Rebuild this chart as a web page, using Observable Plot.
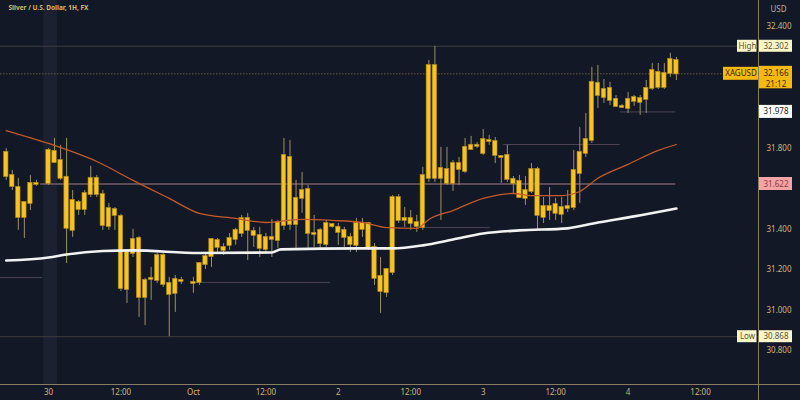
<!DOCTYPE html>
<html><head><meta charset="utf-8">
<script src="https://cdn.jsdelivr.net/npm/d3@7"></script>
<script src="https://cdn.jsdelivr.net/npm/@observablehq/plot@0.6"></script>
<style>
html,body{margin:0;padding:0;background:#131826;}
#chart{width:800px;height:400px;overflow:hidden;}
</style></head><body><div id="chart"></div>
<script>
// hours since 30 Sep 00:00 (hourly candles)
const hours = [-7,-6,-5,-4,-3,-2,
  0,1,2,3,4,5,6,7,8,9,10,11,12,13,14,15,16,17,18,19,20,21,22,
  24,25,26,27,28,29,30,31,32,33,34,35,36,37,38,39,40,41,42,43,44,45,46,47,48,49,50,51,52,53,54,55,56,57,58,59,60,61,62,63,64,65,66,67,68,69,70,71,72,73,74,75,76,77,78,79,80,81,82,83,84,85,86,87,88,89,90,91,92,93,94,95,96,97,98,99,100,101,102,103,104];
const open = [31.778,31.664,31.605,31.457,31.526,31.625,
  31.625,31.783,31.738,31.655,31.393,31.531,31.496,31.570,31.650,31.570,31.412,31.496,31.462,31.101,31.279,31.353,31.062,31.156,31.146,31.269,31.131,31.082,31.146,
  31.136,31.136,31.224,31.264,31.343,31.309,31.319,31.348,31.378,31.452,31.388,31.368,31.299,31.358,31.343,31.417,31.753,31.422,31.551,31.595,31.378,31.393,31.323,31.422,31.408,31.393,31.358,31.319,31.398,31.427,31.309,31.166,31.086,31.185,31.555,31.442,31.452,31.432,31.408,31.650,32.207,31.650,31.694,31.625,31.694,31.684,31.793,31.813,31.773,31.837,31.832,31.758,31.763,31.645,31.635,31.590,31.585,31.694,31.457,31.511,31.477,31.506,31.501,31.506,31.674,31.773,31.837,32.119,32.089,32.094,32.040,32.005,31.995,32.030,32.044,32.040,32.094,32.173,32.099,32.168,32.232];
const high = [31.797,31.689,31.650,31.531,31.664,31.640,
  31.797,31.847,31.813,31.847,31.590,31.541,31.590,31.709,31.664,31.590,31.526,31.506,31.472,31.294,31.398,31.363,31.156,31.210,31.279,31.279,31.161,31.170,31.161,
  31.161,31.234,31.284,31.353,31.353,31.328,31.378,31.403,31.467,31.477,31.408,31.408,31.378,31.447,31.442,31.847,31.837,31.640,31.679,31.615,31.467,31.403,31.442,31.427,31.427,31.408,31.378,31.452,31.452,31.432,31.328,31.259,31.205,31.565,31.570,31.506,31.491,31.467,31.704,32.232,32.302,31.803,31.803,31.738,31.753,31.847,31.857,31.827,31.891,31.862,31.852,31.763,31.813,31.659,31.664,31.659,31.723,31.704,31.555,31.605,31.551,31.555,31.590,31.788,31.901,31.970,32.198,32.207,32.138,32.124,32.059,32.015,32.074,32.059,32.059,32.133,32.217,32.217,32.217,32.267,32.247];
const low = [31.640,31.590,31.393,31.353,31.491,31.610,
  31.615,31.723,31.640,31.229,31.358,31.467,31.467,31.555,31.555,31.393,31.393,31.393,31.091,31.032,31.259,30.963,30.923,31.047,31.131,31.111,30.868,30.988,31.126,
  31.082,31.121,31.200,31.210,31.284,31.269,31.294,31.319,31.358,31.244,31.309,31.259,31.284,31.259,31.304,31.393,31.393,31.304,31.477,31.304,31.309,31.294,31.309,31.403,31.319,31.309,31.284,31.284,31.358,31.294,31.121,30.983,31.062,31.170,31.427,31.408,31.393,31.383,31.393,31.630,31.630,31.442,31.615,31.585,31.615,31.674,31.788,31.797,31.763,31.813,31.723,31.625,31.630,31.575,31.551,31.516,31.575,31.393,31.427,31.442,31.442,31.427,31.481,31.491,31.526,31.753,31.822,31.995,32.020,32.010,32.000,31.995,31.970,32.005,31.961,31.970,32.084,32.089,32.089,32.148,32.133];
const close = [31.659,31.610,31.457,31.531,31.625,31.620,
  31.788,31.728,31.650,31.403,31.541,31.496,31.575,31.650,31.570,31.417,31.501,31.467,31.106,31.284,31.348,31.062,31.146,31.151,31.269,31.126,31.077,31.151,31.141,
  31.131,31.229,31.264,31.348,31.309,31.294,31.353,31.393,31.452,31.393,31.368,31.304,31.358,31.348,31.432,31.763,31.422,31.551,31.590,31.378,31.373,31.328,31.427,31.412,31.383,31.358,31.323,31.427,31.427,31.309,31.156,31.091,31.200,31.555,31.442,31.452,31.427,31.412,31.664,32.207,31.650,31.699,31.625,31.723,31.723,31.803,31.813,31.808,31.842,31.832,31.763,31.753,31.645,31.625,31.555,31.551,31.694,31.467,31.511,31.491,31.521,31.472,31.511,31.689,31.778,31.842,32.124,32.059,32.049,32.035,32.005,32.000,32.040,32.049,32.025,32.094,32.183,32.099,32.168,32.237,32.166];

// moving averages
const maFastHours = [-7,0,8,14,20,25,31,36,42,47,52,56,61,63,67,72,77,80,85,88,91,96,101,104];
const maFast = [31.886,31.822,31.733,31.640,31.551,31.477,31.452,31.432,31.447,31.442,31.432,31.407,31.403,31.447,31.491,31.551,31.575,31.565,31.565,31.585,31.650,31.719,31.788,31.817];
const maSlowHours = [-7,0,3,9,14,25,37,38.5,52,57,62,67,72,78,86,91,97,104];
const maSlow = [31.244,31.259,31.274,31.291,31.294,31.281,31.284,31.299,31.304,31.304,31.319,31.348,31.378,31.393,31.403,31.432,31.462,31.501];

// horizontal level segments
const levelPrice = [31.160,31.622,31.136,31.407,31.817,31.978];
const levelFrom  = [-7.95,-1.3,24,61.6,75.4,94.7];
const levelTo    = [-1,103.9,46.7,73.2,94.7,103.9];

const highValue = 32.302, lowValue = 30.868, lastValue = 32.166, lastTime = "21:12";
const prevValue = 31.978, levelValue = 31.622;

// ticks visible on the price scale (32.200, 32.000 and 31.600 sit under the price tags)
const yTicks = [30.8,31.0,31.2,31.4,31.8,32.4];
const xTicks = [0,12,24,36,48,60,72,84,96,108];
const xTickLabels = ["30","12:00","Oct","12:00","2","12:00","3","12:00","4","12:00"];
const band = [-0.8, 1.5];

const candles = hours.map((h,i)=>({h, o:open[i], hi:high[i], lo:low[i], c:close[i]}));
const fast = maFastHours.map((h,i)=>({h, v:maFast[i]}));
const slow = maSlowHours.map((h,i)=>({h, v:maSlow[i]}));
const levels = levelPrice.map((p,i)=>({p, a:levelFrom[i], b:levelTo[i]}));

const xDomain = [-7.95, 117.6];
const yDomain = [30.632, 32.528];
const R = xDomain[1];
const F = "Noto Sans";
const axisColor = "#cdb57a";

const chart = Plot.plot({
  width: 800, height: 400,
  marginLeft: 0, marginRight: 42, marginTop: 0, marginBottom: 16,
  style: {background: "#131826", color: axisColor, fontFamily: F, fontSize: "8px"},
  x: {domain: xDomain, axis: null},
  y: {domain: yDomain, axis: null},
  marks: [
    Plot.rect([band], {x1: d=>d[0], x2: d=>d[1], fill: "#1c2131"}),
    Plot.ruleY([highValue], {stroke: "#3f3c3a", strokeWidth: 1}),
    Plot.ruleY([lowValue], {stroke: "#3f3c3a", strokeWidth: 1}),
    Plot.ruleY([lastValue], {stroke: "#6e5b36", strokeWidth: 1, strokeDasharray: "1.5,1.5"}),
    Plot.ruleY(levels.filter(d=>d.p!==levelValue), {y: "p", x1: "a", x2: "b", stroke: "#4b4350", strokeWidth: 1}),
    Plot.ruleY(levels.filter(d=>d.p===levelValue), {y: "p", x1: "a", x2: "b", stroke: "#735c68", strokeWidth: 1.4}),
    Plot.ruleX(candles, {x: "h", y1: "lo", y2: "hi", stroke: "#9c9068", strokeWidth: 1}),
    Plot.rect(candles, {x1: d=>d.h-0.37, x2: d=>d.h+0.37, y1: d=>Math.min(d.o,d.c), y2: d=>Math.max(d.o,d.c),
      fill: "#f6c325", stroke: "#a88416", strokeWidth: 0.6, insetTop: -0.6, insetBottom: -0.6}),
    Plot.line(fast, {x: "h", y: "v", stroke: "#c4592c", strokeWidth: 1.3, curve: "monotone-x"}),
    Plot.line(slow, {x: "h", y: "v", stroke: "#f2f2f2", strokeWidth: 2.6, curve: "monotone-x"}),
    // axis frame lines
    Plot.ruleY([yDomain[0]], {stroke: "#8a7c60", strokeWidth: 1, insetRight: -42}),
    Plot.ruleX([R], {stroke: "#8a7c60", strokeWidth: 1, insetBottom: -16, insetTop: 0}),
    Plot.axisY(yTicks, {anchor: "right", tickSize: 0, tickPadding: 8, tickFormat: d3.format(".3f"), fill: axisColor, label: null}),
    Plot.axisX(xTicks, {anchor: "bottom", tickSize: 0, tickPadding: 5, tickFormat: d => xTickLabels[xTicks.indexOf(d)], fill: axisColor, label: null}),
    // price labels on the scale
    Plot.rect([highValue, lowValue], {x1: R, x2: R, y1: d=>d, y2: d=>d, insetLeft: -21, insetRight: 1.5, insetTop: -6, insetBottom: -6, fill: "#fbf6c8"}),
    Plot.rect([highValue, lowValue], {x1: R, x2: R, y1: d=>d, y2: d=>d, insetLeft: 1, insetRight: -34, insetTop: -6, insetBottom: -6, fill: "#fbf6c8"}),
    Plot.text([highValue], {x: R, y: d=>d, text: ()=>"High", dx: -11, fill: "#5b5230", fontSize: 8}),
    Plot.text([lowValue], {x: R, y: d=>d, text: ()=>"Low", dx: -11, fill: "#5b5230", fontSize: 8}),
    Plot.text([highValue, lowValue], {x: R, y: d=>d, text: d=>d3.format(".3f")(d), dx: 17.5, fill: "#5b5230", fontSize: 8}),
    Plot.rect([lastValue], {x1: R, x2: R, y1: d=>d, y2: d=>d, insetLeft: -35, insetRight: 0, insetTop: -6.5, insetBottom: -6.5, fill: "#f5b90f"}),
    Plot.rect([lastValue], {x1: R, x2: R, y1: d=>d, y2: d=>d, insetLeft: 1, insetRight: -34, insetTop: -7.5, insetBottom: -15, fill: "#f5b90f"}),
    Plot.text([lastValue], {x: R, y: d=>d, text: ()=>"XAGUSD", dx: -17.5, fill: "#3a2a00", fontSize: 8}),
    Plot.text([lastValue], {x: R, y: d=>d, text: d=>d3.format(".3f")(d), dx: 17.5, fill: "#3a2a00", fontSize: 8}),
    Plot.text([lastValue], {x: R, y: d=>d, text: ()=>lastTime, dx: 17.5, dy: 10.5, fill: "#3a2a00", fontSize: 8}),
    Plot.rect([prevValue], {x1: R, x2: R, y1: d=>d, y2: d=>d, insetLeft: 1, insetRight: -34, insetTop: -6.5, insetBottom: -6.5, fill: "#ffffff"}),
    Plot.text([prevValue], {x: R, y: d=>d, text: d=>d3.format(".3f")(d), dx: 17.5, fill: "#222222", fontSize: 8}),
    Plot.rect([levelValue], {x1: R, x2: R, y1: d=>d, y2: d=>d, insetLeft: 1, insetRight: -34, insetTop: -6.5, insetBottom: -6.5, fill: "#f4a3a6"}),
    Plot.text([levelValue], {x: R, y: d=>d, text: d=>d3.format(".3f")(d), dx: 17.5, fill: "#8c3b3f", fontSize: 8}),
    // header texts
    Plot.text(["USD"], {frameAnchor: "top-right", text: d=>d, dx: 20, dy: 6, textAnchor: "middle", fill: "#b9b2a0", fontSize: 8}),
    Plot.text(["Silver / U.S. Dollar, 1H, FX"], {frameAnchor: "top-left", text: d=>d, dx: 8, dy: 5, textAnchor: "start", fill: "#d8b86a", fontSize: 6.5, fontWeight: "bold"})
  ]
});
document.getElementById("chart").appendChild(chart);
</script></body></html>
